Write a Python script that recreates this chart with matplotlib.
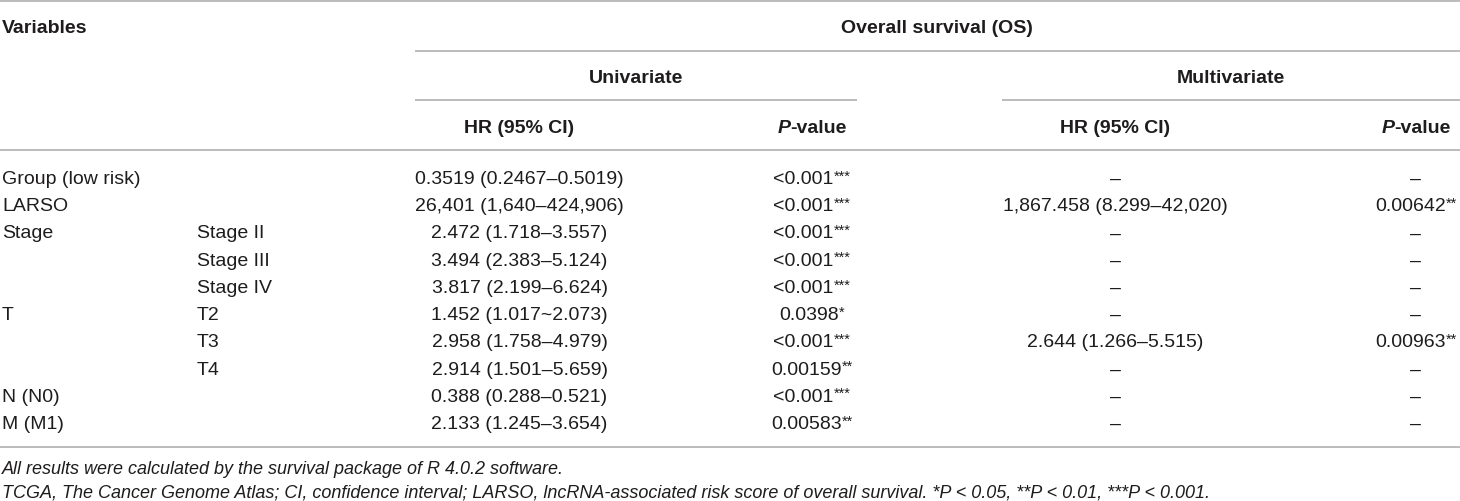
import matplotlib
matplotlib.use("Agg")
import matplotlib.pyplot as plt

# ---------------- data ----------------
variables = ["Group (low risk)", "LARSO", "Stage", "", "", "T", "", "", "N (N0)", "M (M1)"]
subgroups = ["", "", "Stage II", "Stage III", "Stage IV", "T2", "T3", "T4", "", ""]
uni_hr = ["0.3519 (0.2467–0.5019)", "26,401 (1,640–424,906)", "2.472 (1.718–3.557)",
          "3.494 (2.383–5.124)", "3.817 (2.199–6.624)", "1.452 (1.017~2.073)",
          "2.958 (1.758–4.979)", "2.914 (1.501–5.659)", "0.388 (0.288–0.521)",
          "2.133 (1.245–3.654)"]
uni_p = ["<0.001***", "<0.001***", "<0.001***", "<0.001***", "<0.001***", "0.0398*",
         "<0.001***", "0.00159**", "<0.001***", "0.00583**"]
multi_hr = ["–", "1,867.458 (8.299–42,020)", "–", "–", "–", "–", "2.644 (1.266–5.515)",
            "–", "–", "–"]
multi_p = ["–", "0.00642**", "–", "–", "–", "–", "0.00963**", "–", "–", "–"]

header_var = "Variables"
header_group = "Overall survival (OS)"
header_sub = ["Univariate", "Multivariate"]
header_hr = "HR (95% CI)"
footnotes = [
    "All results were calculated by the survival package of R 4.0.2 software.",
    "TCGA, The Cancer Genome Atlas; CI, confidence interval; LARSO, lncRNA-associated risk "
    "score of overall survival. *P < 0.05, **P < 0.01, ***P < 0.001.",
]

# ---------------- layout ----------------
W, H = 1460, 501
fig = plt.figure(figsize=(W / 100, H / 100), dpi=100)
ax = fig.add_axes([0, 0, 1, 1])
ax.set_xlim(0, W)
ax.set_ylim(H, 0)
ax.axis("off")
renderer = fig.canvas.get_renderer()

FONT = "Liberation Sans"
TXT = "#1e1c1d"
LINE = "#a8a8a8"
FS = 14.0
FS_SUP = 10.5
FS_FOOT = 13.0
BASE = 7.0  # baseline offset from visual centre

col0_x = 2
col1_x = 197
uni_hr_x = 519.5
uni_p_x = 812
mul_hr_x = 1115
mul_p_x = 1416


def hline(y, x0, x1):
    ax.plot([x0, x1], [y, y], color=LINE, lw=1.1, solid_capstyle="butt")


def rich(xc, yc, parts, ha="center"):
    """parts: list of (text, fontsize, weight, style, raise_px)."""
    objs = []
    for txt, fs, wt, st, rz in parts:
        t = ax.text(0, yc + BASE - rz, txt, fontsize=fs, fontweight=wt, fontstyle=st,
                    family=FONT, color=TXT, ha="left", va="baseline")
        objs.append(t)
    widths = [o.get_window_extent(renderer).width for o in objs]
    total = sum(widths)
    if ha == "center":
        x = xc - total / 2
    elif ha == "right":
        x = xc - total
    else:
        x = xc
    for o, w in zip(objs, widths):
        o.set_x(x)
        x += w


def pcell(xc, yc, s):
    core = s.rstrip("*")
    stars = s[len(core):]
    parts = [(core, FS, "normal", "normal", 0)]
    if stars:
        parts.append((stars, FS_SUP, "normal", "normal", 3.5))
    rich(xc, yc, parts)


# rules
hline(1, 0, W)
hline(50.5, 415, W)
hline(100, 415, 857)
hline(100, 1002, W)
hline(150, 0, W)
hline(447, 0, W)

# header
rich(col0_x, 26, [(header_var, FS, "bold", "normal", 0)], ha="left")
rich(937, 26, [(header_group, FS, "bold", "normal", 0)])
rich(636, 76, [(header_sub[0], FS, "bold", "normal", 0)])
rich(1231, 76, [(header_sub[1], FS, "bold", "normal", 0)])
for xc in (uni_hr_x, mul_hr_x):
    rich(xc, 126, [(header_hr, FS, "bold", "normal", 0)])
for xc in (uni_p_x, mul_p_x):
    rich(xc, 126, [("P", FS, "bold", "italic", 0), ("-value", FS, "bold", "normal", 0)])

# body
row0, step = 177, 27.22
for i in range(len(variables)):
    yc = row0 + i * step
    if variables[i]:
        rich(col0_x, yc, [(variables[i], FS, "normal", "normal", 0)], ha="left")
    if subgroups[i]:
        rich(col1_x, yc, [(subgroups[i], FS, "normal", "normal", 0)], ha="left")
    rich(uni_hr_x, yc, [(uni_hr[i], FS, "normal", "normal", 0)])
    pcell(uni_p_x, yc, uni_p[i])
    rich(mul_hr_x, yc, [(multi_hr[i], FS, "normal", "normal", 0)])
    pcell(mul_p_x, yc, multi_p[i])

# footnotes
for j, fn in enumerate(footnotes):
    rich(col0_x, 467 + j * 23, [(fn, FS_FOOT, "normal", "italic", 0)], ha="left")

fig.savefig("out.png", dpi=100, facecolor="white")
